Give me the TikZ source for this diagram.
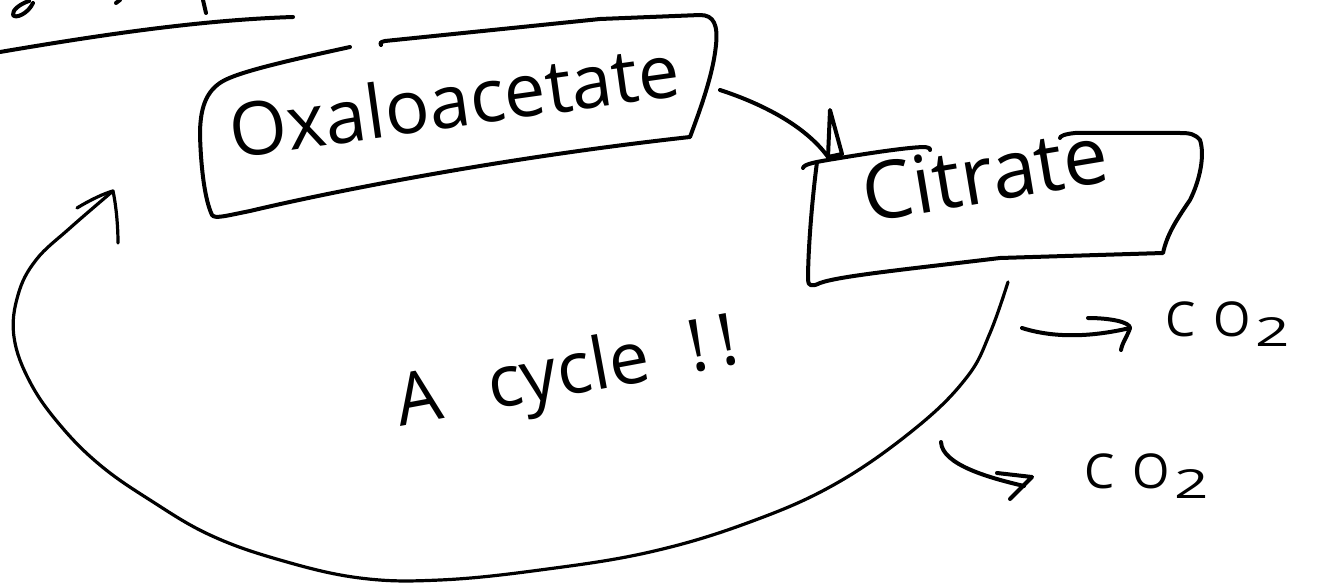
\documentclass[tikz,border=0pt]{standalone}
\usepackage{fontspec}
\setmainfont{Open Sans}
\begin{document}
\tikzset{
  ink/.style={line width=4pt, line cap=round, line join=round},
  thinink/.style={line width=3.2pt, line cap=round, line join=round},
  lbl/.style={inner sep=0pt, anchor=base},
  co2font/.style={font=\fontsize{48}{54}\selectfont},
}
\newcommand{\cotwo}{C\hspace{18pt}O\hspace{5pt}\raisebox{-10pt}{\scalebox{1.5}[1]{\fontsize{40}{40}\selectfont 2}}}
\begin{tikzpicture}[x=1pt,y=-1pt]
\useasboundingbox (0,0) rectangle (1327,583);
\fill[white] (0,0) rectangle (1327,583);

% cut-off heading strokes and underline
\draw[ink] (0,52) .. controls (100,35) and (200,20) .. (293,17);
\draw[ink] (29,1) .. controls (20,4) and (12,10) .. (13,15) .. controls (15,19) and (28,14) .. (33,3);
\draw[ink] (203,0) -- (206,13);
\draw[ink] (116,3) -- (120,0);

% Oxaloacetate box
\draw[ink] (350,47) .. controls (300,58) and (245,70) .. (225,80)
  .. controls (205,90) and (200,110) .. (200,135)
  .. controls (201,170) and (205,200) .. (212,215)
  .. controls (215,219) and (225,216) .. (250,211)
  .. controls (330,192) and (500,158) .. (690,137)
  .. controls (700,110) and (713,75) .. (716,45)
  .. controls (718,25) and (714,15) .. (700,15)
  -- (600,19) -- (385,41) .. controls (380,42) and (379,44) .. (381,45);
\node[lbl, rotate=8, font=\fontsize{74}{80}\selectfont] (oxa) at (458,127) {Oxaloacetate};

% Citrate box
\draw[ink] (803,168) .. controls (804,164) and (815,162) .. (840,158)
  .. controls (870,153) and (910,147) .. (925,147) .. controls (930,148) and (931,149) .. (930,150);
\draw[ink] (817,162) .. controls (812,200) and (808,250) .. (808,280)
  .. controls (808,286) and (812,287) .. (820,283)
  .. controls (840,276) and (900,270) .. (1000,258) -- (1163,253)
  .. controls (1167,235) and (1175,222) .. (1190,200)
  .. controls (1200,180) and (1205,155) .. (1200,140)
  .. controls (1195,134) and (1190,133) .. (1180,133) -- (1075,133)
  .. controls (1065,134) and (1060,136) .. (1060,138);
\node[lbl, rotate=9.5, font=\fontsize{80}{88}\selectfont] (cit) at (990,202) {Citrate};

% arrow Oxaloacetate -> Citrate
\coordinate (oxOut) at (720,90);
\coordinate (citIn) at (828,157);
\draw[ink] (oxOut) .. controls (760,103) and (805,125) .. (citIn);
\draw[ink] (citIn) -- (830,110) -- (842,154) -- cycle;

% the big cycle back to Oxaloacetate
\coordinate (cycS) at (1008,282);
\coordinate (cycE) at (113,191);
\draw[thinink] plot[smooth, tension=0.65] coordinates {(cycS) (990,333) (967,377) (917,427) (837,483) (750,522) (650,552) (540,570) (440,580) (360,578) (280,560) (210,535) (150,500) (100,465) (60,425) (30,382) (14,337) (18,295) (36,260) (70,228) (cycE)};
\draw[thinink] (77,208) .. controls (90,200) and (105,193) .. (cycE) .. controls (116,205) and (118,225) .. (118,243);

\node[lbl, rotate=10.5, font=\fontsize{72}{80}\selectfont] (cyc) at (571,395) {A\hspace{48pt}cycle\hspace{40pt}!\hspace{12pt}!};

% CO2 arrows
\coordinate (a1s) at (1022,328);
\coordinate (a1e) at (1130,328);
\draw[ink] (a1s) .. controls (1060,340) and (1100,335) .. (a1e);
\draw[ink] (1088,318) .. controls (1110,318) and (1130,322) .. (a1e) .. controls (1128,335) and (1122,343) .. (1121,350);
\node[lbl, anchor=base west, co2font] (co2a) at (1165,336) {\cotwo};

\coordinate (a2s) at (941,442);
\coordinate (a2e) at (1024,486);
\draw[ink] (a2s) .. controls (942,465) and (990,478) .. (a2e);
\draw[ink] (997,473) -- (1032,477) -- (1010,499);
\node[lbl, anchor=base west, co2font] (co2b) at (1084,488) {\cotwo};
\end{tikzpicture}
\end{document}
